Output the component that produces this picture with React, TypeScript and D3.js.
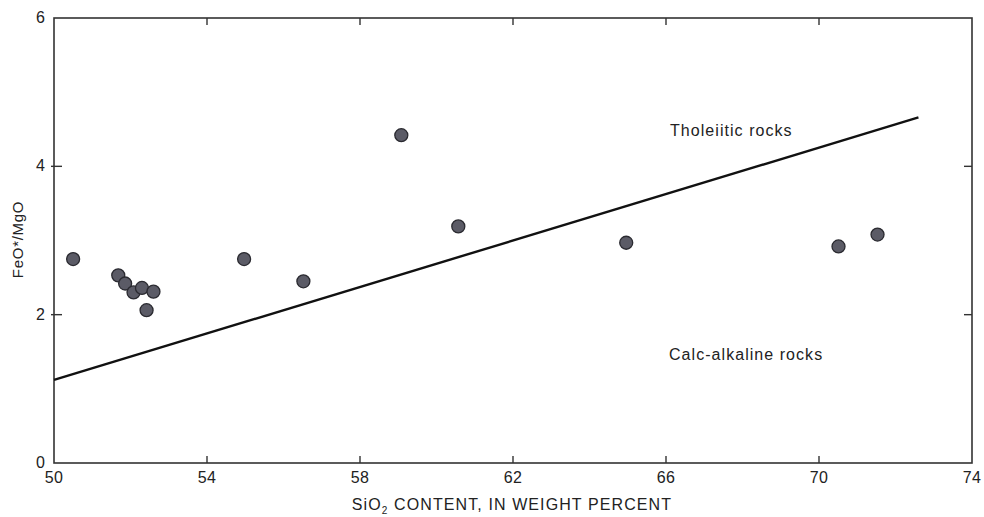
import React from "react";
import * as d3 from "d3";

// SiO2 (wt %) and FeO*/MgO for each analysed sample
const silica = [50.5, 51.68, 51.86, 52.08, 52.3, 52.42, 52.6, 54.97, 56.52, 59.08, 60.57, 64.96, 70.51, 71.53];
const feoMgo = [2.75, 2.53, 2.42, 2.3, 2.36, 2.06, 2.31, 2.75, 2.45, 4.42, 3.19, 2.97, 2.92, 3.08];

// Tholeiitic / calc-alkaline dividing line (end points)
const dividerX = [50, 72.6];
const dividerY = [1.12, 4.66];

const xTicks = [50, 54, 58, 62, 66, 70, 74];
const yTicks = [0, 2, 4, 6];

const W = 984;
const H = 517;
const M = { left: 54, right: 12, top: 18, bottom: 54 };

const FONT = "'Liberation Sans', Arial, Helvetica, sans-serif";
const INK = "#222";

export default function App() {
  const x = d3.scaleLinear().domain([50, 74]).range([M.left, W - M.right]);
  const y = d3.scaleLinear().domain([0, 6]).range([H - M.bottom, M.top]);

  const x0 = x.range()[0];
  const x1 = x.range()[1];
  const y0 = y.range()[0];
  const y1 = y.range()[1];

  const divider = d3
    .line<number>()
    .x((_, i) => x(dividerX[i]))
    .y((_, i) => y(dividerY[i]))(dividerX);

  const innerX = xTicks.filter((t) => t !== 50 && t !== 74);
  const innerY = yTicks.filter((t) => t !== 0 && t !== 6);

  return (
    <svg
      width={W}
      height={H}
      viewBox={`0 0 ${W} ${H}`}
      style={{ position: "absolute", left: 0, top: 0, background: "#fff" }}
    >
      {/* frame */}
      <rect x={x0} y={y1} width={x1 - x0} height={y0 - y1} fill="none" stroke="#333" strokeWidth={1.6} />

      {/* bottom and top ticks */}
      {innerX.map((t) => (
        <g key={`xt${t}`} stroke="#333" strokeWidth={1.4}>
          <line x1={x(t)} x2={x(t)} y1={y0} y2={y0 - 7} />
          <line x1={x(t)} x2={x(t)} y1={y1} y2={y1 + 7} />
        </g>
      ))}
      {/* left and right ticks */}
      {innerY.map((t) => (
        <g key={`yt${t}`} stroke="#333" strokeWidth={1.4}>
          <line x1={x0 - 3} x2={x0 + 8} y1={y(t)} y2={y(t)} />
          <line x1={x1 - 8} x2={x1} y1={y(t)} y2={y(t)} />
        </g>
      ))}

      {/* tick labels */}
      {xTicks.map((t) => (
        <text
          key={`xl${t}`}
          x={x(t)}
          y={y0 + 20}
          textAnchor="middle"
          fontFamily={FONT}
          fontSize={16}
          letterSpacing={0.4}
          fill={INK}
        >
          {t}
        </text>
      ))}
      {yTicks.map((t) => (
        <text
          key={`yl${t}`}
          x={x0 - 9}
          y={y(t) + 5}
          textAnchor="end"
          fontFamily={FONT}
          fontSize={16}
          fill={INK}
        >
          {t}
        </text>
      ))}

      {/* axis titles */}
      <text
        x={(x0 + x1) / 2 - 1}
        y={H - 7}
        textAnchor="middle"
        fontFamily={FONT}
        fontSize={16}
        letterSpacing={1.1}
        fill={INK}
      >
        SiO
        <tspan fontSize={10} dy={4}>2</tspan>
        <tspan dy={-4}> CONTENT, IN WEIGHT PERCENT</tspan>
      </text>
      <text
        transform={`translate(23, ${y(3) - 1}) rotate(-90)`}
        textAnchor="middle"
        fontFamily={FONT}
        fontSize={15}
        letterSpacing={0.7}
        fill={INK}
      >
        FeO*/MgO
      </text>

      {/* dividing line */}
      <path d={divider ?? ""} fill="none" stroke="#111" strokeWidth={2.4} />

      {/* field labels */}
      <text x={670} y={136} fontFamily={FONT} fontSize={16} letterSpacing={1.05} fill={INK}>
        Tholeiitic rocks
      </text>
      <text x={669} y={360} fontFamily={FONT} fontSize={16} letterSpacing={1.05} fill={INK}>
        Calc-alkaline rocks
      </text>

      {/* samples */}
      {silica.map((s, i) => (
        <circle
          key={`p${i}`}
          cx={x(s)}
          cy={y(feoMgo[i])}
          r={6.5}
          fill="#5b5b66"
          stroke="#2a2a30"
          strokeWidth={1.3}
        />
      ))}
    </svg>
  );
}
